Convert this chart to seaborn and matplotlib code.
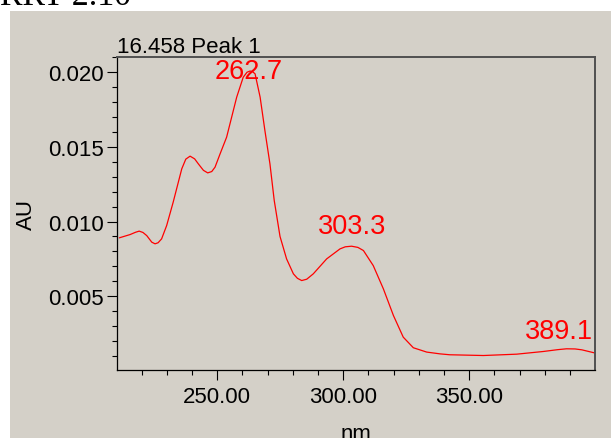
import matplotlib
matplotlib.use("Agg")
from matplotlib import pyplot as plt
from matplotlib.patches import Rectangle
import pandas as pd
import seaborn as sns

# UV spectrum
wavelength = [211.1, 215.4, 217.5, 219.0, 220.5, 222.0, 224.0, 225.3, 226.5, 227.9,
              229.9, 232.5, 235.9, 237.5, 239.2, 241.0, 242.5, 244.5, 246.2, 247.8,
              249.1, 251.1, 253.7, 257.7, 260.3, 261.8, 263.0, 264.0, 265.0, 267.0,
              268.9, 270.9, 272.6, 274.9, 277.5, 280.2, 281.8, 283.5, 285.5, 288.1,
              293.4, 298.7, 300.8, 303.3, 305.8, 308.0, 311.9, 315.9, 319.9, 323.8,
              327.8, 333.1, 338.4, 342.3, 355.6, 368.8, 379.4, 385.0, 388.6, 392.0,
              394.7, 399.6]
absorbance = [0.00891, 0.00913, 0.00928, 0.00936, 0.00927, 0.00906, 0.00862, 0.00851, 0.00858, 0.00884,
              0.00973, 0.01130, 0.01353, 0.01418, 0.01438, 0.01420, 0.01386, 0.01343, 0.01326, 0.01335,
              0.01364, 0.01453, 0.01565, 0.01833, 0.01967, 0.02000, 0.02008, 0.02004, 0.01989, 0.01833,
              0.01609, 0.01386, 0.01141, 0.00900, 0.00750, 0.00650, 0.00620, 0.00605, 0.00614, 0.00650,
              0.00750, 0.00817, 0.00831, 0.00835, 0.00827, 0.00806, 0.00705, 0.00550, 0.00371, 0.00226,
              0.00155, 0.00126, 0.00114, 0.00108, 0.00103, 0.00112, 0.00130, 0.00142, 0.00148, 0.00147,
              0.00141, 0.00121]

peak_labels = ["262.7", "303.3", "389.1"]
peak_text_x = [262.3, 303.4, 385.6]
peak_text_y = [0.02009, 0.00967, 0.00270]

x_ticks = [250, 300, 350]
y_ticks = [0.005, 0.010, 0.015, 0.020]

BG = "#d4d0c8"

sns.set_style("ticks")
plt.rcParams["font.family"] = ["Liberation Sans", "DejaVu Sans"]
plt.rcParams["text.color"] = "black"
plt.rcParams["axes.labelcolor"] = "black"

df = pd.DataFrame({"nm": wavelength, "AU": absorbance})

fig = plt.figure(figsize=(6.11, 4.39), dpi=100, facecolor="white")
bg = Rectangle((10 / 611, 0), 1, 1 - 12 / 439, transform=fig.transFigure,
               facecolor=BG, edgecolor="none", zorder=-10)
fig.add_artist(bg)
fig.text(0, 1 - 5 / 439, "RRT 2.10", family=["Liberation Serif", "DejaVu Serif"],
         fontsize=24.5, va="baseline", ha="left", color="black")

ax = fig.add_axes([117 / 611, 1 - 371 / 439, (595 - 117) / 611, (371 - 58) / 439])
ax.set_zorder(5)
ax.set_facecolor(BG)

sns.lineplot(data=df, x="nm", y="AU", ax=ax, color="red", linewidth=0.9, sort=False)

ax.set_xlim(210.2, 399.9)
ax.set_ylim(0.00006, 0.02102)
ax.set_xticks(x_ticks)
ax.set_xticklabels([f"{v:.2f}" for v in x_ticks])
ax.set_yticks(y_ticks)
ax.set_yticklabels([f"{v:.3f}" for v in y_ticks])
ax.xaxis.set_minor_locator(matplotlib.ticker.MultipleLocator(10))
ax.yaxis.set_minor_locator(matplotlib.ticker.MultipleLocator(0.001))
ax.tick_params(which="both", colors="black")
ax.tick_params(which="major", length=7.2, width=0.8, labelsize=16, pad=2)
ax.tick_params(which="minor", length=3.6, width=0.8)
ax.tick_params(axis="x", which="major", pad=4)

for side in ["left", "bottom"]:
    ax.spines[side].set_color("black")
    ax.spines[side].set_linewidth(0.9)
for side in ["top", "right"]:
    ax.spines[side].set_visible(True)
    ax.spines[side].set_color("#505050")
    ax.spines[side].set_linewidth(1.4)

ax.set_xlabel("nm", fontsize=16, labelpad=12)
ax.set_ylabel("AU", fontsize=16, labelpad=8)
ax.set_title("16.458 Peak 1", loc="left", fontsize=16, pad=1, color="black")

for label, tx, ty in zip(peak_labels, peak_text_x, peak_text_y):
    ax.text(tx, ty, label, color="red", fontsize=19.5, ha="center", va="center")

fig.savefig("out.png", dpi=100, facecolor="white")
